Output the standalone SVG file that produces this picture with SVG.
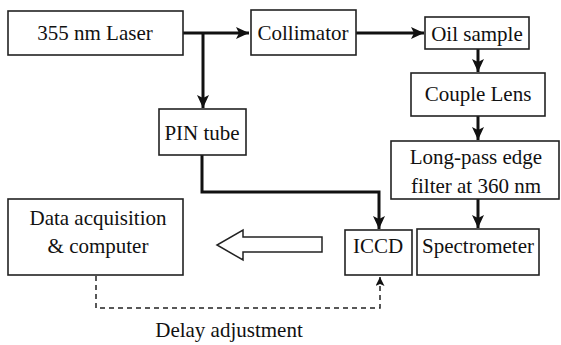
<svg xmlns="http://www.w3.org/2000/svg" width="561" height="345" viewBox="0 0 561 345">
<style>
.box{fill:#fff;stroke:#222;stroke-width:1.6}
.t{font-family:"Liberation Serif","Times New Roman",serif;font-size:21px;fill:#111;text-anchor:middle}
.thick{fill:none;stroke:#111;stroke-width:3}
.dash{fill:none;stroke:#222;stroke-width:1.5;stroke-dasharray:5,4}
</style>
<defs>
<marker id="ah" markerUnits="userSpaceOnUse" markerWidth="16" markerHeight="14" refX="13" refY="6" orient="auto">
<path d="M0,0 L13,6 L0,12 L3,6 Z" fill="#111"/>
</marker>
<marker id="ahs" markerUnits="userSpaceOnUse" markerWidth="12" markerHeight="12" refX="9" refY="4.5" orient="auto">
<path d="M0,0 L9,4.5 L0,9 L2,4.5 Z" fill="#111"/>
</marker>
</defs>
<g id="connectors">
<path class="thick" d="M183,33 H249" marker-end="url(#ah)"/>
<path class="thick" d="M203,33 V108" marker-end="url(#ah)"/>
<path class="thick" d="M356,33 H424" marker-end="url(#ah)"/>
<path class="thick" d="M478,49 V72" marker-end="url(#ah)"/>
<path class="thick" d="M478,116 V140" marker-end="url(#ah)"/>
<path class="thick" d="M478,199 V228" marker-end="url(#ah)"/>
<path class="thick" d="M202,155 V192 H379 V229" marker-end="url(#ah)"/>
<path class="dash" d="M96,276 V308 H380 V277" marker-end="url(#ahs)"/>
<polygon points="322,237 322,252 243,252 243,260 217,245 243,230 243,237" fill="#fff" stroke="#222" stroke-width="1.5"/>
</g>
<g id="laser"><rect class="box" x="8" y="11" width="175" height="44"/><text class="t" x="95" y="40">355 nm Laser</text></g>
<g id="collimator"><rect class="box" x="251" y="10" width="105" height="45"/><text class="t" x="303" y="40">Collimator</text></g>
<g id="oil"><rect class="box" x="425" y="17" width="104" height="32"/><text class="t" x="477" y="41">Oil sample</text></g>
<g id="lens"><rect class="box" x="411" y="73" width="134" height="43"/><text class="t" x="478" y="101">Couple Lens</text></g>
<g id="filter"><rect class="box" x="391" y="141" width="168" height="58"/><text class="t" x="476" y="164">Long-pass edge</text><text class="t" x="476" y="193">filter at 360 nm</text></g>
<g id="spectrometer"><rect class="box" x="417" y="229" width="122" height="46"/><text class="t" x="478" y="253">Spectrometer</text></g>
<g id="iccd"><rect class="box" x="345" y="230" width="67" height="45"/><text class="t" x="378" y="253">ICCD</text></g>
<g id="pin"><rect class="box" x="159" y="109" width="87" height="46"/><text class="t" x="202" y="140">PIN tube</text></g>
<g id="data"><rect class="box" x="8" y="199" width="175" height="76"/><text class="t" x="98" y="225">Data acquisition</text><text class="t" x="98" y="253">&amp; computer</text></g>
<text class="t" x="229" y="337">Delay adjustment</text>
</svg>
